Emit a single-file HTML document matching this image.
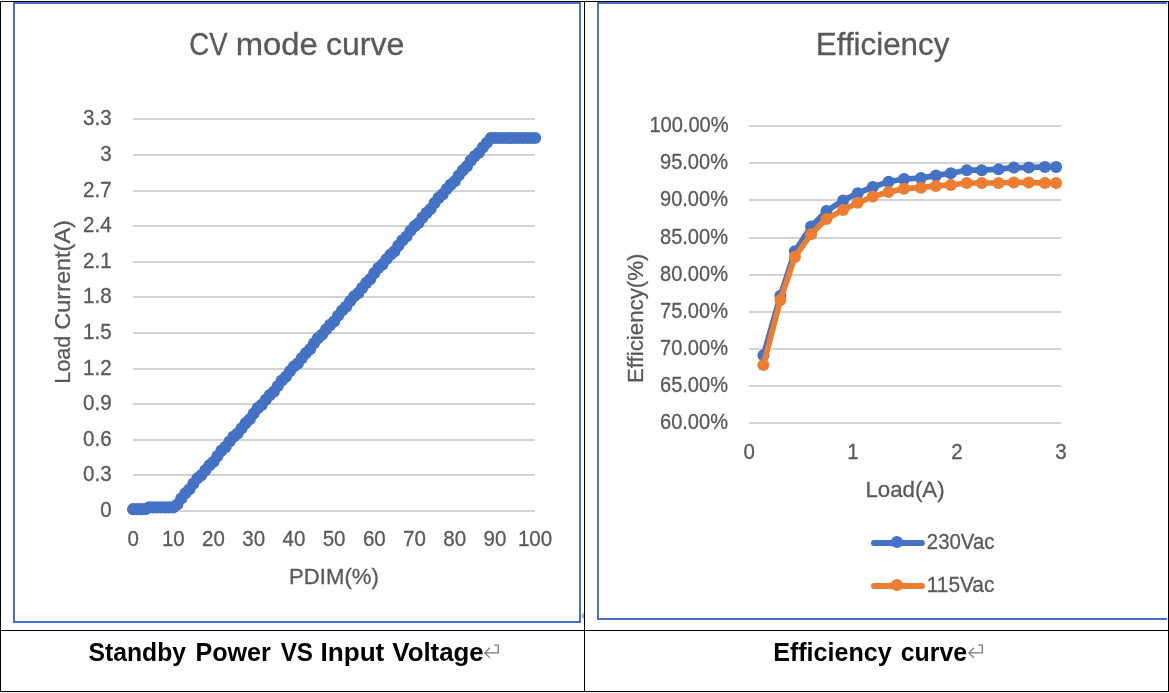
<!DOCTYPE html>
<html lang="en"><head><meta charset="utf-8"><title>Charts</title>
<style>html,body{margin:0;padding:0;background:#fff;overflow:hidden}svg{display:block}text{font-family:"Liberation Sans",sans-serif;fill:#595959;stroke:#595959;stroke-width:.3px}.cap{font-weight:bold;fill:#000;stroke:none}</style></head><body>
<svg width="1169" height="693" viewBox="0 0 1169 693">
<rect width="1169" height="693" fill="#fff"/>
<g fill="#000" shape-rendering="crispEdges">
<rect x="0" y="1" width="1169" height="1"/>
<rect x="0" y="1" width="1" height="691"/>
<rect x="1168" y="1" width="1" height="691"/>
<rect x="0" y="691" width="1169" height="1"/>
<rect x="0" y="630" width="1169" height="1"/>
<rect x="584" y="1" width="1" height="691"/>
</g>
<g fill="#4472C4" shape-rendering="crispEdges">
<rect x="13" y="2" width="568" height="2"/>
<rect x="13" y="621" width="568" height="2"/>
<rect x="13" y="2" width="2" height="621"/>
<rect x="579" y="2" width="2" height="621"/>
<rect x="597" y="2" width="570" height="2"/>
<rect x="597" y="618" width="570" height="2"/>
<rect x="597" y="2" width="2" height="618"/>
</g>
<path d="M583.6 612.2 L581.4 616 L583.6 619.6 Z" fill="#9a9a9a"/>
<g fill="#D3D3D3" shape-rendering="crispEdges">
<rect x="133" y="510" width="402" height="2"/>
<rect x="133" y="474" width="402" height="2"/>
<rect x="133" y="439" width="402" height="2"/>
<rect x="133" y="403" width="402" height="2"/>
<rect x="133" y="368" width="402" height="2"/>
<rect x="133" y="332" width="402" height="2"/>
<rect x="133" y="296" width="402" height="2"/>
<rect x="133" y="261" width="402" height="2"/>
<rect x="133" y="225" width="402" height="2"/>
<rect x="133" y="190" width="402" height="2"/>
<rect x="133" y="154" width="402" height="2"/>
<rect x="133" y="118" width="402" height="2"/>
</g>
<g font-size="22">
<text x="111.6" y="517.1" text-anchor="end" textLength="11.4" lengthAdjust="spacingAndGlyphs">0</text>
<text x="111.6" y="481.1" text-anchor="end" textLength="28.6" lengthAdjust="spacingAndGlyphs">0.3</text>
<text x="111.6" y="446.1" text-anchor="end" textLength="28.6" lengthAdjust="spacingAndGlyphs">0.6</text>
<text x="111.6" y="410.1" text-anchor="end" textLength="28.6" lengthAdjust="spacingAndGlyphs">0.9</text>
<text x="111.6" y="375.1" text-anchor="end" textLength="28.6" lengthAdjust="spacingAndGlyphs">1.2</text>
<text x="111.6" y="339.1" text-anchor="end" textLength="28.6" lengthAdjust="spacingAndGlyphs">1.5</text>
<text x="111.6" y="303.1" text-anchor="end" textLength="28.6" lengthAdjust="spacingAndGlyphs">1.8</text>
<text x="111.6" y="268.1" text-anchor="end" textLength="28.6" lengthAdjust="spacingAndGlyphs">2.1</text>
<text x="111.6" y="232.1" text-anchor="end" textLength="28.6" lengthAdjust="spacingAndGlyphs">2.4</text>
<text x="111.6" y="197.1" text-anchor="end" textLength="28.6" lengthAdjust="spacingAndGlyphs">2.7</text>
<text x="111.6" y="161.1" text-anchor="end" textLength="11.4" lengthAdjust="spacingAndGlyphs">3</text>
<text x="111.6" y="125.1" text-anchor="end" textLength="28.6" lengthAdjust="spacingAndGlyphs">3.3</text>
</g>
<g font-size="22">
<text x="133.1" y="546.0" text-anchor="middle" textLength="11.4" lengthAdjust="spacingAndGlyphs">0</text>
<text x="173.3" y="546.0" text-anchor="middle" textLength="22.8" lengthAdjust="spacingAndGlyphs">10</text>
<text x="213.5" y="546.0" text-anchor="middle" textLength="22.8" lengthAdjust="spacingAndGlyphs">20</text>
<text x="253.7" y="546.0" text-anchor="middle" textLength="22.8" lengthAdjust="spacingAndGlyphs">30</text>
<text x="293.9" y="546.0" text-anchor="middle" textLength="22.8" lengthAdjust="spacingAndGlyphs">40</text>
<text x="334.1" y="546.0" text-anchor="middle" textLength="22.8" lengthAdjust="spacingAndGlyphs">50</text>
<text x="374.3" y="546.0" text-anchor="middle" textLength="22.8" lengthAdjust="spacingAndGlyphs">60</text>
<text x="414.5" y="546.0" text-anchor="middle" textLength="22.8" lengthAdjust="spacingAndGlyphs">70</text>
<text x="454.7" y="546.0" text-anchor="middle" textLength="22.8" lengthAdjust="spacingAndGlyphs">80</text>
<text x="494.9" y="546.0" text-anchor="middle" textLength="22.8" lengthAdjust="spacingAndGlyphs">90</text>
<text x="535.1" y="546.0" text-anchor="middle" textLength="34.3" lengthAdjust="spacingAndGlyphs">100</text>
</g>
<text y="54.9" font-size="31"><tspan x="189.27" textLength="38.33" lengthAdjust="spacingAndGlyphs">CV</tspan> <tspan x="235.78" textLength="82.09" lengthAdjust="spacingAndGlyphs">mode</tspan> <tspan x="325.91" textLength="78.35" lengthAdjust="spacingAndGlyphs">curve</tspan></text>
<text y="583.7" font-size="22"><tspan x="289.14" textLength="89.63" lengthAdjust="spacingAndGlyphs">PDIM(%)</tspan></text>
<g transform="translate(69.6 0) rotate(-90)"><text y="0.0" font-size="22"><tspan x="-383.83" textLength="48.26" lengthAdjust="spacingAndGlyphs">Load</tspan> <tspan x="-329.87" textLength="109.81" lengthAdjust="spacingAndGlyphs">Current(A)</tspan></text></g>
<polyline fill="none" stroke="#4472C4" stroke-width="6" stroke-linejoin="round" stroke-linecap="round" points="133.1,509.2 137.1,509.2 141.1,509.2 145.2,509.2 149.2,507.4 153.2,507.4 157.2,507.4 161.2,507.4 165.3,507.4 169.3,507.4 173.3,507.4 177.3,504.5 181.3,498.5 185.4,493.2 189.4,489.3 193.4,483.6 197.4,478.3 201.4,475.1 205.5,470.1 209.5,465.2 213.5,461.8 217.5,456.1 221.5,450.6 225.6,446.9 229.6,441.5 233.6,436.6 237.6,433.5 241.6,428.3 245.7,423.1 249.7,419.3 253.7,413.5 257.7,408.2 261.7,404.9 265.8,399.8 269.8,395.1 273.8,391.7 277.8,386.0 281.8,380.5 285.9,376.7 289.9,371.2 293.9,366.5 297.9,363.4 301.9,358.1 306.0,353.0 310.0,349.2 314.0,343.3 318.0,338.1 322.0,334.7 326.1,329.5 330.1,324.9 334.1,321.5 338.1,315.8 342.1,310.5 346.2,306.6 350.2,301.0 354.2,296.3 358.2,293.2 362.2,287.9 366.3,282.9 370.3,279.1 374.3,273.1 378.3,268.0 382.3,264.6 386.4,259.3 390.4,254.8 394.4,251.4 398.4,245.6 402.4,240.4 406.5,236.5 410.5,230.8 414.5,226.2 418.5,223.0 422.5,217.6 426.6,212.9 430.6,209.0 434.6,203.0 438.6,197.9 442.6,194.4 446.7,189.0 450.7,184.6 454.7,181.3 458.7,175.5 462.7,170.4 466.8,166.4 470.8,160.6 474.8,156.0 478.8,152.8 482.8,147.4 486.9,142.8 490.9,138.0 494.9,138.0 498.9,138.0 502.9,138.0 507.0,138.0 511.0,138.0 515.0,138.0 519.0,138.0 523.0,138.0 527.1,138.0 531.1,138.0 535.1,138.0"/>
<g fill="#4472C4">
<circle cx="133.1" cy="509.2" r="6.1"/>
<circle cx="137.1" cy="509.2" r="6.1"/>
<circle cx="141.1" cy="509.2" r="6.1"/>
<circle cx="145.2" cy="509.2" r="6.1"/>
<circle cx="149.2" cy="507.4" r="6.1"/>
<circle cx="153.2" cy="507.4" r="6.1"/>
<circle cx="157.2" cy="507.4" r="6.1"/>
<circle cx="161.2" cy="507.4" r="6.1"/>
<circle cx="165.3" cy="507.4" r="6.1"/>
<circle cx="169.3" cy="507.4" r="6.1"/>
<circle cx="173.3" cy="507.4" r="6.1"/>
<circle cx="177.3" cy="504.5" r="6.1"/>
<circle cx="181.3" cy="498.5" r="6.1"/>
<circle cx="185.4" cy="493.2" r="6.1"/>
<circle cx="189.4" cy="489.3" r="6.1"/>
<circle cx="193.4" cy="483.6" r="6.1"/>
<circle cx="197.4" cy="478.3" r="6.1"/>
<circle cx="201.4" cy="475.1" r="6.1"/>
<circle cx="205.5" cy="470.1" r="6.1"/>
<circle cx="209.5" cy="465.2" r="6.1"/>
<circle cx="213.5" cy="461.8" r="6.1"/>
<circle cx="217.5" cy="456.1" r="6.1"/>
<circle cx="221.5" cy="450.6" r="6.1"/>
<circle cx="225.6" cy="446.9" r="6.1"/>
<circle cx="229.6" cy="441.5" r="6.1"/>
<circle cx="233.6" cy="436.6" r="6.1"/>
<circle cx="237.6" cy="433.5" r="6.1"/>
<circle cx="241.6" cy="428.3" r="6.1"/>
<circle cx="245.7" cy="423.1" r="6.1"/>
<circle cx="249.7" cy="419.3" r="6.1"/>
<circle cx="253.7" cy="413.5" r="6.1"/>
<circle cx="257.7" cy="408.2" r="6.1"/>
<circle cx="261.7" cy="404.9" r="6.1"/>
<circle cx="265.8" cy="399.8" r="6.1"/>
<circle cx="269.8" cy="395.1" r="6.1"/>
<circle cx="273.8" cy="391.7" r="6.1"/>
<circle cx="277.8" cy="386.0" r="6.1"/>
<circle cx="281.8" cy="380.5" r="6.1"/>
<circle cx="285.9" cy="376.7" r="6.1"/>
<circle cx="289.9" cy="371.2" r="6.1"/>
<circle cx="293.9" cy="366.5" r="6.1"/>
<circle cx="297.9" cy="363.4" r="6.1"/>
<circle cx="301.9" cy="358.1" r="6.1"/>
<circle cx="306.0" cy="353.0" r="6.1"/>
<circle cx="310.0" cy="349.2" r="6.1"/>
<circle cx="314.0" cy="343.3" r="6.1"/>
<circle cx="318.0" cy="338.1" r="6.1"/>
<circle cx="322.0" cy="334.7" r="6.1"/>
<circle cx="326.1" cy="329.5" r="6.1"/>
<circle cx="330.1" cy="324.9" r="6.1"/>
<circle cx="334.1" cy="321.5" r="6.1"/>
<circle cx="338.1" cy="315.8" r="6.1"/>
<circle cx="342.1" cy="310.5" r="6.1"/>
<circle cx="346.2" cy="306.6" r="6.1"/>
<circle cx="350.2" cy="301.0" r="6.1"/>
<circle cx="354.2" cy="296.3" r="6.1"/>
<circle cx="358.2" cy="293.2" r="6.1"/>
<circle cx="362.2" cy="287.9" r="6.1"/>
<circle cx="366.3" cy="282.9" r="6.1"/>
<circle cx="370.3" cy="279.1" r="6.1"/>
<circle cx="374.3" cy="273.1" r="6.1"/>
<circle cx="378.3" cy="268.0" r="6.1"/>
<circle cx="382.3" cy="264.6" r="6.1"/>
<circle cx="386.4" cy="259.3" r="6.1"/>
<circle cx="390.4" cy="254.8" r="6.1"/>
<circle cx="394.4" cy="251.4" r="6.1"/>
<circle cx="398.4" cy="245.6" r="6.1"/>
<circle cx="402.4" cy="240.4" r="6.1"/>
<circle cx="406.5" cy="236.5" r="6.1"/>
<circle cx="410.5" cy="230.8" r="6.1"/>
<circle cx="414.5" cy="226.2" r="6.1"/>
<circle cx="418.5" cy="223.0" r="6.1"/>
<circle cx="422.5" cy="217.6" r="6.1"/>
<circle cx="426.6" cy="212.9" r="6.1"/>
<circle cx="430.6" cy="209.0" r="6.1"/>
<circle cx="434.6" cy="203.0" r="6.1"/>
<circle cx="438.6" cy="197.9" r="6.1"/>
<circle cx="442.6" cy="194.4" r="6.1"/>
<circle cx="446.7" cy="189.0" r="6.1"/>
<circle cx="450.7" cy="184.6" r="6.1"/>
<circle cx="454.7" cy="181.3" r="6.1"/>
<circle cx="458.7" cy="175.5" r="6.1"/>
<circle cx="462.7" cy="170.4" r="6.1"/>
<circle cx="466.8" cy="166.4" r="6.1"/>
<circle cx="470.8" cy="160.6" r="6.1"/>
<circle cx="474.8" cy="156.0" r="6.1"/>
<circle cx="478.8" cy="152.8" r="6.1"/>
<circle cx="482.8" cy="147.4" r="6.1"/>
<circle cx="486.9" cy="142.8" r="6.1"/>
<circle cx="490.9" cy="138.0" r="6.1"/>
<circle cx="494.9" cy="138.0" r="6.1"/>
<circle cx="498.9" cy="138.0" r="6.1"/>
<circle cx="502.9" cy="138.0" r="6.1"/>
<circle cx="507.0" cy="138.0" r="6.1"/>
<circle cx="511.0" cy="138.0" r="6.1"/>
<circle cx="515.0" cy="138.0" r="6.1"/>
<circle cx="519.0" cy="138.0" r="6.1"/>
<circle cx="523.0" cy="138.0" r="6.1"/>
<circle cx="527.1" cy="138.0" r="6.1"/>
<circle cx="531.1" cy="138.0" r="6.1"/>
<circle cx="535.1" cy="138.0" r="6.1"/>
</g>
<g fill="#D3D3D3" shape-rendering="crispEdges">
<rect x="749" y="125" width="312" height="2"/>
<rect x="749" y="162" width="312" height="2"/>
<rect x="749" y="199" width="312" height="2"/>
<rect x="749" y="237" width="312" height="2"/>
<rect x="749" y="274" width="312" height="2"/>
<rect x="749" y="311" width="312" height="2"/>
<rect x="749" y="348" width="312" height="2"/>
<rect x="749" y="385" width="312" height="2"/>
<rect x="749" y="422" width="312" height="2"/>
</g>
<g font-size="22" text-anchor="end">
<text x="728.6" y="132.0" textLength="79.2" lengthAdjust="spacingAndGlyphs">100.00%</text>
<text x="728.0" y="169.0" textLength="68.0" lengthAdjust="spacingAndGlyphs">95.00%</text>
<text x="728.0" y="206.0" textLength="68.0" lengthAdjust="spacingAndGlyphs">90.00%</text>
<text x="728.0" y="244.0" textLength="68.0" lengthAdjust="spacingAndGlyphs">85.00%</text>
<text x="728.0" y="281.0" textLength="68.0" lengthAdjust="spacingAndGlyphs">80.00%</text>
<text x="728.0" y="318.0" textLength="68.0" lengthAdjust="spacingAndGlyphs">75.00%</text>
<text x="728.0" y="355.0" textLength="68.0" lengthAdjust="spacingAndGlyphs">70.00%</text>
<text x="728.0" y="392.0" textLength="68.0" lengthAdjust="spacingAndGlyphs">65.00%</text>
<text x="728.0" y="429.0" textLength="68.0" lengthAdjust="spacingAndGlyphs">60.00%</text>
</g>
<g font-size="22">
<text x="749.1" y="459.0" text-anchor="middle" textLength="11.4" lengthAdjust="spacingAndGlyphs">0</text>
<text x="853.0" y="459.0" text-anchor="middle" textLength="11.4" lengthAdjust="spacingAndGlyphs">1</text>
<text x="957.0" y="459.0" text-anchor="middle" textLength="11.4" lengthAdjust="spacingAndGlyphs">2</text>
<text x="1060.9" y="459.0" text-anchor="middle" textLength="11.4" lengthAdjust="spacingAndGlyphs">3</text>
</g>
<text y="54.7" font-size="31"><tspan x="815.87" textLength="133.54" lengthAdjust="spacingAndGlyphs">Efficiency</tspan></text>
<text y="496.8" font-size="22"><tspan x="865.43" textLength="79.17" lengthAdjust="spacingAndGlyphs">Load(A)</tspan></text>
<g transform="translate(643 0) rotate(-90)"><text y="0.0" font-size="22"><tspan x="-383.07" textLength="129.56" lengthAdjust="spacingAndGlyphs">Efficiency(%)</tspan></text></g>
<polyline fill="none" stroke="#4472C4" stroke-width="5.7" stroke-linejoin="round" stroke-linecap="round" points="763.4,355.2 780.4,295.8 794.9,251.2 811.1,226.5 826.5,211.1 843.1,200.4 857.7,193.2 872.8,187.0 888.6,181.8 904.0,179.0 920.9,178.1 935.9,175.4 950.8,173.3 966.8,170.2 981.8,170.2 998.6,169.2 1013.8,167.6 1028.8,167.6 1044.9,166.9 1056.1,166.9"/>
<g fill="#4472C4">
<circle cx="763.4" cy="355.2" r="6"/>
<circle cx="780.4" cy="295.8" r="6"/>
<circle cx="794.9" cy="251.2" r="6"/>
<circle cx="811.1" cy="226.5" r="6"/>
<circle cx="826.5" cy="211.1" r="6"/>
<circle cx="843.1" cy="200.4" r="6"/>
<circle cx="857.7" cy="193.2" r="6"/>
<circle cx="872.8" cy="187.0" r="6"/>
<circle cx="888.6" cy="181.8" r="6"/>
<circle cx="904.0" cy="179.0" r="6"/>
<circle cx="920.9" cy="178.1" r="6"/>
<circle cx="935.9" cy="175.4" r="6"/>
<circle cx="950.8" cy="173.3" r="6"/>
<circle cx="966.8" cy="170.2" r="6"/>
<circle cx="981.8" cy="170.2" r="6"/>
<circle cx="998.6" cy="169.2" r="6"/>
<circle cx="1013.8" cy="167.6" r="6"/>
<circle cx="1028.8" cy="167.6" r="6"/>
<circle cx="1044.9" cy="166.9" r="6"/>
<circle cx="1056.1" cy="166.9" r="6"/>
</g>
<polyline fill="none" stroke="#ED7D31" stroke-width="5.7" stroke-linejoin="round" stroke-linecap="round" points="763.4,365.1 780.4,300.0 794.9,257.0 811.1,234.2 826.5,219.0 843.1,210.0 857.7,202.8 872.8,196.6 888.6,192.1 904.0,188.7 920.9,187.7 935.9,185.9 950.8,185.0 966.8,183.0 981.8,183.0 998.6,183.0 1013.8,182.4 1028.8,182.4 1044.9,183.1 1056.1,183.1"/>
<g fill="#ED7D31">
<circle cx="763.4" cy="365.1" r="6"/>
<circle cx="780.4" cy="300.0" r="6"/>
<circle cx="794.9" cy="257.0" r="6"/>
<circle cx="811.1" cy="234.2" r="6"/>
<circle cx="826.5" cy="219.0" r="6"/>
<circle cx="843.1" cy="210.0" r="6"/>
<circle cx="857.7" cy="202.8" r="6"/>
<circle cx="872.8" cy="196.6" r="6"/>
<circle cx="888.6" cy="192.1" r="6"/>
<circle cx="904.0" cy="188.7" r="6"/>
<circle cx="920.9" cy="187.7" r="6"/>
<circle cx="935.9" cy="185.9" r="6"/>
<circle cx="950.8" cy="185.0" r="6"/>
<circle cx="966.8" cy="183.0" r="6"/>
<circle cx="981.8" cy="183.0" r="6"/>
<circle cx="998.6" cy="183.0" r="6"/>
<circle cx="1013.8" cy="182.4" r="6"/>
<circle cx="1028.8" cy="182.4" r="6"/>
<circle cx="1044.9" cy="183.1" r="6"/>
<circle cx="1056.1" cy="183.1" r="6"/>
</g>
<line x1="874" y1="543.0" x2="921.9" y2="543.0" stroke="#4472C4" stroke-width="6" stroke-linecap="round"/>
<circle cx="896.9" cy="542.0" r="6.1" fill="#4472C4"/>
<text y="548.7" font-size="22"><tspan x="926.87" textLength="67.61" lengthAdjust="spacingAndGlyphs">230Vac</tspan></text>
<line x1="874" y1="586.0" x2="921.9" y2="586.0" stroke="#ED7D31" stroke-width="6" stroke-linecap="round"/>
<circle cx="896.9" cy="585.0" r="6.1" fill="#ED7D31"/>
<text y="591.7" font-size="22"><tspan x="926.74" textLength="67.64" lengthAdjust="spacingAndGlyphs">115Vac</tspan></text>
<text y="660.6" font-size="25.5" class="cap"><tspan x="88.47" textLength="97.52" lengthAdjust="spacingAndGlyphs">Standby</tspan> <tspan x="195.38" textLength="75.40" lengthAdjust="spacingAndGlyphs">Power</tspan> <tspan x="280.66" textLength="32.32" lengthAdjust="spacingAndGlyphs">VS</tspan> <tspan x="320.51" textLength="63.81" lengthAdjust="spacingAndGlyphs">Input</tspan> <tspan x="392.35" textLength="91.33" lengthAdjust="spacingAndGlyphs">Voltage</tspan></text>
<text y="660.6" font-size="25.5" class="cap"><tspan x="773.18" textLength="118.44" lengthAdjust="spacingAndGlyphs">Efficiency</tspan> <tspan x="900.72" textLength="66.35" lengthAdjust="spacingAndGlyphs">curve</tspan></text>
<path transform="translate(0.0 0)" d="M494.2 645.1 H498.2 V652.9 H484.8 M489.9 647.8 L484.8 652.9 L489.9 657.9" fill="none" stroke="#7a7a7a" stroke-width="1.3"/>
<path transform="translate(484.1 0)" d="M494.2 645.1 H498.2 V652.9 H484.8 M489.9 647.8 L484.8 652.9 L489.9 657.9" fill="none" stroke="#7a7a7a" stroke-width="1.3"/>
</svg></body></html>
